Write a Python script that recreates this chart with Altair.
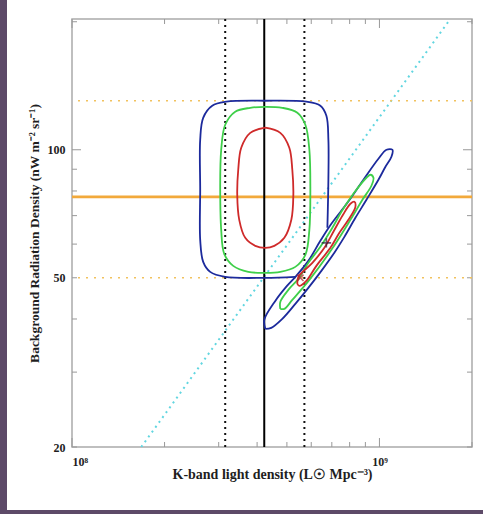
import altair as alt
import pandas as pd

# ---- axis ranges and tick values ------------------------------------------
X_DOMAIN = [1e8, 2e9]
Y_DOMAIN = [20, 203]
X_MAJOR = [1e8, 1e9]
X_MINOR = [2e8, 3e8, 4e8, 5e8, 6e8, 7e8, 8e8, 9e8, 2e9]
Y_MAJOR = [100]
Y_MINOR = [20, 30, 40, 50, 60, 70, 80, 90, 200]
X_LABELS = [1e8, 1e9]
Y_LABELS = [20, 50, 100]

# ---- reference lines ------------------------------------------------------
K_BEST = [4.22e8]                 # solid black vertical
K_RANGE = [3.15e8, 5.70e8]        # dotted black verticals
BG_BEST = [77.5]                  # solid orange horizontal
BG_RANGE = [50.0, 130.4]          # dotted orange horizontals
PROP_X = [1.68e8, 1.70e9]         # cyan proportionality line
PROP_Y = [20.0, 203.0]

# ---- confidence contours --------------------------------------------------
# outer (blue) contour of the box-shaped solution; its lower-right corner is
# swallowed by the diagonal solution, so the path stops where they meet
BLUE_BOX_X = [5.326e8, 4.253e8, 3.150e8, 2.815e8, 2.671e8, 2.612e8, 2.612e8, 2.612e8,
              2.671e8, 2.858e8, 3.174e8, 4.253e8, 5.784e8, 6.424e8, 6.721e8, 6.822e8,
              6.822e8, 6.771e8]
BLUE_BOX_Y = [50.25, 49.98, 50.25, 51.63, 54.50, 61.40, 80.52, 105.6,
              118.9, 126.9, 129.7, 130.4, 129.7, 126.9, 120.2, 105.6,
              85.01, 65.53]

GREEN_BOX_X = [3.034e8, 3.057e8, 3.150e8, 3.395e8, 3.800e8, 4.253e8, 4.831e8, 5.407e8,
               5.741e8, 5.916e8, 5.960e8, 5.916e8, 5.741e8, 5.326e8, 4.759e8, 4.253e8,
               3.744e8, 3.345e8, 3.127e8, 3.057e8, 3.034e8]
GREEN_BOX_Y = [80.52, 100.0, 114.5, 122.9, 125.5, 126.2, 125.5, 122.2,
               114.5, 100.0, 80.52, 64.82, 56.61, 53.04, 51.63, 51.35,
               51.63, 53.33, 56.92, 64.82, 80.52]

RED_BOX_X = [4.253e8, 4.759e8, 5.091e8, 5.207e8, 5.247e8, 5.169e8, 4.905e8, 4.550e8,
             4.253e8, 3.946e8, 3.660e8, 3.499e8, 3.447e8, 3.473e8, 3.552e8, 3.800e8,
             4.253e8]
RED_BOX_Y = [112.7, 109.6, 101.1, 89.73, 78.37, 68.43, 62.07, 59.44,
             58.80, 59.44, 62.07, 68.43, 78.37, 89.73, 101.1, 109.6,
             112.7]

# diagonal (degenerate) solution
BLUE_DIAG_X = [4.253e8, 4.221e8, 4.584e8, 4.941e8, 5.365e8, 5.871e8, 6.424e8, 6.977e8,
               7.866e8, 8.869e8, 9.924e8, 10.54e8, 11.02e8, 10.94e8, 10.46e8, 9.924e8,
               9.072e8, 8.352e8, 7.691e8, 7.134e8, 6.473e8, 5.871e8, 5.326e8, 4.831e8,
               4.448e8, 4.253e8]
BLUE_DIAG_Y = [37.92, 39.81, 44.12, 47.34, 50.52, 54.79, 61.07, 66.97,
               75.03, 85.01, 95.24, 100.0, 100.0, 96.28, 91.20, 85.01,
               76.27, 69.18, 62.40, 57.27, 51.91, 47.34, 43.41, 40.03,
               38.13, 37.92]

GREEN_DIAG_X = [4.759e8, 4.759e8, 5.054e8, 5.448e8, 5.871e8, 6.424e8, 7.029e8, 7.520e8,
                8.228e8, 9.072e8, 9.348e8, 9.561e8, 9.417e8, 8.803e8, 8.045e8, 6.977e8,
                5.916e8, 5.207e8, 4.905e8, 4.759e8]
GREEN_DIAG_Y = [42.25, 43.88, 46.83, 49.71, 54.21, 59.12, 65.53, 71.48,
                78.80, 85.93, 87.35, 85.93, 82.29, 76.27, 68.43, 58.17,
                49.44, 44.36, 42.25, 42.25]

RED_DIAG_X = [5.407e8, 5.448e8, 6.051e8, 6.620e8, 7.083e8, 7.577e8, 8.045e8, 8.291e8,
              8.352e8, 7.925e8, 7.408e8, 6.925e8, 6.235e8, 5.784e8, 5.488e8, 5.407e8]
RED_DIAG_Y = [48.38, 50.25, 54.21, 58.80, 64.13, 69.94, 74.64, 75.45,
              73.43, 68.43, 63.77, 58.80, 53.33, 49.18, 47.86, 48.38]

# best-fit markers
PLUS_X, PLUS_Y = [6.72e8], [60.4]
CROSS_X, CROSS_Y = [5.53e8], [49.98]

W, H = 400, 428
SERIF = "Liberation Serif"
INK = "#1e1e1e"


def contour_frame():
    parts = [
        ("blue", "blue_box", BLUE_BOX_X, BLUE_BOX_Y),
        ("blue", "blue_diag", BLUE_DIAG_X, BLUE_DIAG_Y),
        ("green", "green_box", GREEN_BOX_X, GREEN_BOX_Y),
        ("green", "green_diag", GREEN_DIAG_X, GREEN_DIAG_Y),
        ("red", "red_box", RED_BOX_X, RED_BOX_Y),
        ("red", "red_diag", RED_DIAG_X, RED_DIAG_Y),
    ]
    rows = []
    for level, name, xs_, ys_ in parts:
        for i, (xv, yv) in enumerate(zip(xs_, ys_)):
            rows.append({"x": xv, "y": yv, "level": level, "name": name, "seq": i})
    return pd.DataFrame(rows)


xs = alt.Scale(type="log", domain=X_DOMAIN, nice=False)
ys = alt.Scale(type="log", domain=Y_DOMAIN, nice=False)

# side strips of the page backdrop
strip_left = alt.Chart(pd.DataFrame({"a": [0]})).mark_rect(color="#5d4a68").encode(
    x=alt.value(-72), x2=alt.value(-65), y=alt.value(-19), y2=alt.value(H + 67))
strip_bottom = alt.Chart(pd.DataFrame({"a": [0]})).mark_rect(color="#5d4a68").encode(
    x=alt.value(-72), x2=alt.value(W + 11), y=alt.value(H + 63), y2=alt.value(H + 67))

# axes: labels and titles only, the frame comes from the view stroke
base_axes = alt.Chart(pd.DataFrame({"x": X_LABELS, "y": [Y_DOMAIN[0], Y_DOMAIN[0]]})).mark_point(opacity=0).encode(
    x=alt.X("x:Q", scale=xs,
            axis=alt.Axis(values=X_LABELS, title="K-band light density (L\u2609 Mpc\u207b\u00b3)",
                          labelExpr="datum.value < 5e8 ? '10\u2078' : '10\u2079'",
                          domain=False, ticks=False, grid=False, labelPadding=9,
                          titlePadding=0, labelFont=SERIF, titleFont=SERIF,
                          labelFontSize=12, titleFontSize=14, labelColor=INK,
                          titleColor=INK, titleFontWeight="bold", labelFontWeight="bold")),
    y=alt.Y("y:Q", scale=ys,
            axis=alt.Axis(values=Y_LABELS,
                          title="Background Radiation Density (nW  m\u207b\u00b2  sr\u207b\u00b9)",
                          labelExpr="format(datum.value, 'd')",
                          domain=False, ticks=False, grid=False, labelPadding=7,
                          titlePadding=6, labelFont=SERIF, titleFont=SERIF,
                          labelFontSize=12, titleFontSize=13.5, labelColor=INK,
                          titleColor=INK, titleFontWeight="bold", labelFontWeight="bold")),
)


# inward tick marks on all four sides
def xticks(values, length):
    d = pd.DataFrame({"x": values})
    c = alt.Chart(d).mark_rule(color="#999", strokeWidth=1)
    bottom = c.encode(x=alt.X("x:Q", scale=xs), y=alt.value(H), y2=alt.value(H - length))
    top = c.encode(x=alt.X("x:Q", scale=xs), y=alt.value(0), y2=alt.value(length))
    return [bottom, top]


def yticks(values, length):
    d = pd.DataFrame({"y": values})
    c = alt.Chart(d).mark_rule(color="#999", strokeWidth=1)
    left = c.encode(y=alt.Y("y:Q", scale=ys), x=alt.value(0), x2=alt.value(length))
    right = c.encode(y=alt.Y("y:Q", scale=ys), x=alt.value(W), x2=alt.value(W - length))
    return [left, right]


ticks = xticks(X_MAJOR, 9) + xticks(X_MINOR, 5) + yticks(Y_MAJOR, 9) + yticks(Y_MINOR, 5)

prop = alt.Chart(pd.DataFrame({"x": PROP_X, "y": PROP_Y})).mark_line(
    color="#62d6e0", strokeWidth=2, strokeDash=[2, 4], clip=True).encode(
    x=alt.X("x:Q", scale=xs), y=alt.Y("y:Q", scale=ys))

bg_range = alt.Chart(pd.DataFrame({"y": BG_RANGE})).mark_rule(
    color="#f1c25e", strokeWidth=1.6, strokeDash=[2, 6]).encode(y=alt.Y("y:Q", scale=ys))
bg_best = alt.Chart(pd.DataFrame({"y": BG_BEST})).mark_rule(
    color="#f2a93b", strokeWidth=2.6).encode(y=alt.Y("y:Q", scale=ys))
k_range = alt.Chart(pd.DataFrame({"x": K_RANGE})).mark_rule(
    color="#111", strokeWidth=2, strokeDash=[2, 4]).encode(x=alt.X("x:Q", scale=xs))
k_best = alt.Chart(pd.DataFrame({"x": K_BEST})).mark_rule(
    color="#000", strokeWidth=2).encode(x=alt.X("x:Q", scale=xs))

contours = alt.Chart(contour_frame()).mark_line(
    strokeWidth=1.8, clip=True, interpolate="catmull-rom").encode(
    x=alt.X("x:Q", scale=xs),
    y=alt.Y("y:Q", scale=ys),
    detail="name:N",
    order="seq:Q",
    color=alt.Color("level:N", legend=None,
                    scale=alt.Scale(domain=["blue", "green", "red"],
                                    range=["#1c2a9c", "#3fcf4a", "#cf2a2a"])),
)

plus = alt.Chart(pd.DataFrame({"x": PLUS_X, "y": PLUS_Y})).mark_point(
    shape="M-1,0L1,0M0,-1L0,1", size=90, color="#2a1a3a", strokeWidth=1.6).encode(
    x=alt.X("x:Q", scale=xs), y=alt.Y("y:Q", scale=ys))
cross = alt.Chart(pd.DataFrame({"x": CROSS_X, "y": CROSS_Y})).mark_point(
    shape="M-1,-1L1,1M-1,1L1,-1", size=40, color="#b0202a", strokeWidth=1.6).encode(
    x=alt.X("x:Q", scale=xs), y=alt.Y("y:Q", scale=ys))

chart = alt.layer(
    strip_left, strip_bottom, base_axes, *ticks, prop, bg_range, bg_best,
    k_range, k_best, contours, plus, cross,
).properties(
    width=W, height=H,
    autosize=alt.AutoSizeParams(type="none"),
    padding={"left": 72, "top": 19, "right": 11, "bottom": 67},
    background="white",
).configure_view(
    stroke="#aaaaaa", strokeWidth=1.5, fill="white",
).configure_axis(zindex=1)

chart.save("out.html", embed_options={"renderer": "svg", "actions": False})
